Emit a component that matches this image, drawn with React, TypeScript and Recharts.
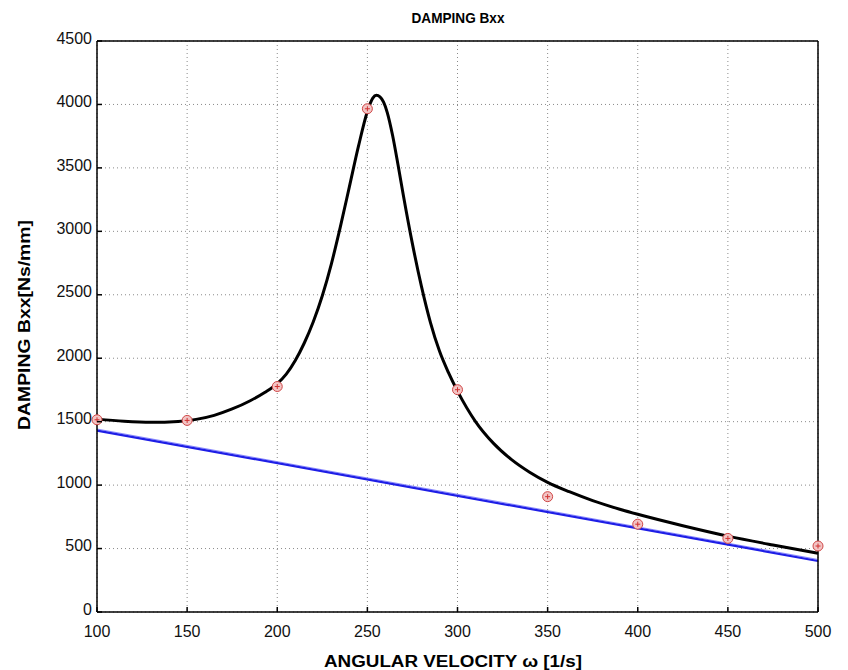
import { Line, XAxis, YAxis, CartesianGrid, Scatter, ComposedChart } from "recharts"

// fitted curve (black)
const omega = [100, 115, 130, 145, 155, 165, 175, 185, 193, 200, 205, 210, 215, 220, 225, 230, 235, 240, 245, 250, 253, 255, 257, 259, 261, 264, 267, 270, 275, 280, 285, 290, 295, 300, 310, 320, 330, 340, 350, 362, 375, 390, 400, 425, 450, 475, 500]
const fitted = [1520, 1503, 1495, 1502, 1518, 1550, 1600, 1665, 1730, 1800, 1875, 1982, 2120, 2287, 2492, 2742, 3035, 3350, 3667, 3945, 4050, 4072, 4060, 4018, 3938, 3755, 3524, 3281, 2901, 2566, 2281, 2056, 1886, 1741, 1501, 1329, 1201, 1102, 1022, 948, 878, 810, 770, 680, 598, 528, 463]

// linear trend (blue)
const lineOmega = [100, 500]
const linear = [1430, 402]
const linear2 = [1442, 414]

// measured points (red circles)
const measOmega = [100, 150, 200, 250, 300, 350, 400, 450, 500]
const measured = [1515, 1510, 1777, 3966, 1752, 909, 692, 580, 520]

const xTicks = [100, 150, 200, 250, 300, 350, 400, 450, 500]
const yTicks = [0, 500, 1000, 1500, 2000, 2500, 3000, 3500, 4000, 4500]

const curveData = omega.map((w, i) => ({ w, fit: fitted[i] }))
const lineData = lineOmega.map((w, i) => ({ w, lin: linear[i], lin2: linear2[i] }))
const measData = measOmega.map((w, i) => ({ w, meas: measured[i] }))

const font = "'Liberation Sans', Arial, Helvetica, sans-serif"
const TICK = 5

const Marker = (props: any) => {
  const { cx, cy } = props
  if (cx == null || cy == null) return null
  return (
    <g>
      <circle cx={cx} cy={cy} r={5} fill="#f2c4c4" stroke="#d04848" strokeWidth={1} />
      <line x1={cx - 2.5} x2={cx + 2.5} y1={cy} y2={cy} stroke="#d03030" strokeWidth={1} />
      <line x1={cx} x2={cx} y1={cy - 2.5} y2={cy + 2.5} stroke="#d03030" strokeWidth={1} />
    </g>
  )
}

// inward tick marks, matlab style
const BottomTick = (props: any) => {
  const { x, y, payload } = props
  const ay = y - 12
  return (
    <g>
      <line x1={x} x2={x} y1={ay} y2={ay - TICK} stroke="#000" strokeWidth={1.5} />
      <text x={x} y={y} dy="0.8em" textAnchor="middle" fontSize={16} fontFamily={font} fill="#111">{payload.value}</text>
    </g>
  )
}
const LeftTick = (props: any) => {
  const { x, y, payload } = props
  const ax = x + 5
  return (
    <g>
      <line x1={ax} x2={ax + TICK} y1={y} y2={y} stroke="#000" strokeWidth={1.5} />
      <text x={x} y={y - 3} dy="0.355em" textAnchor="end" fontSize={16} fontFamily={font} fill="#111">{payload.value}</text>
    </g>
  )
}
const TopTick = (props: any) => {
  const { x, y } = props
  return <line x1={x} x2={x} y1={y} y2={y + TICK} stroke="#000" strokeWidth={1.5} />
}
const RightTick = (props: any) => {
  const { x, y } = props
  return <line x1={x} x2={x - TICK} y1={y} y2={y} stroke="#000" strokeWidth={1.5} />
}

export default function App() {
  return (
    <div style={{ position: "absolute", left: 0, top: 0, width: 848, height: 670, background: "#fff", fontFamily: font }}>
      <ComposedChart
        width={848}
        height={670}
        margin={{ top: 40, right: 29, bottom: 28, left: 37 }}
      >
        {/* GRID */}
        <CartesianGrid xAxisId="b" yAxisId="l" stroke="#8a8a8a" strokeDasharray="1 3" />

        {/* AXES */}
        <XAxis
          xAxisId="b"
          dataKey="w"
          type="number"
          domain={[100, 500]}
          ticks={xTicks}
          allowDuplicatedCategory={false}
          height={30}
          axisLine={{ stroke: "#000", strokeWidth: 1.5 }}
          tickLine={false}
          tickSize={0}
          tickMargin={12}
          tick={BottomTick}
        />
        <XAxis
          xAxisId="t"
          orientation="top"
          type="number"
          domain={[100, 500]}
          ticks={xTicks}
          height={1}
          axisLine={{ stroke: "#000", strokeWidth: 1.5 }}
          tickLine={false}
          tickSize={0}
          tickMargin={0}
          tick={TopTick}
        />
        <YAxis
          yAxisId="l"
          type="number"
          domain={[0, 4500]}
          ticks={yTicks}
          width={60}
          axisLine={{ stroke: "#000", strokeWidth: 1.5 }}
          tickLine={false}
          tickSize={0}
          tickMargin={5}
          tick={LeftTick}
        />
        <YAxis
          yAxisId="r"
          orientation="right"
          type="number"
          domain={[0, 4500]}
          ticks={yTicks}
          width={1}
          axisLine={{ stroke: "#000", strokeWidth: 1.5 }}
          tickLine={false}
          tickSize={0}
          tickMargin={0}
          tick={RightTick}
        />

        {/* LINEAR */}
        <Line data={lineData} xAxisId="b" yAxisId="l" dataKey="lin2" stroke="#8a8aff" strokeWidth={1} dot={false} isAnimationActive={false} />
        <Line data={lineData} xAxisId="b" yAxisId="l" dataKey="lin" stroke="#1e1ee6" strokeWidth={2.2} dot={false} isAnimationActive={false} />

        {/* FITTED CURVE */}
        <Line data={curveData} xAxisId="b" yAxisId="l" type="monotone" dataKey="fit" stroke="#000" strokeWidth={3} dot={false} isAnimationActive={false} />

        {/* MEASURED */}
        <Scatter data={measData} xAxisId="b" yAxisId="l" dataKey="meas" shape={Marker} isAnimationActive={false} />

        <text x={458} y={23} textAnchor="middle" fontSize={14} fontWeight="bold" fontFamily={font} fill="#000" textLength={93} lengthAdjust="spacingAndGlyphs">DAMPING Bxx</text>
        <text x={453} y={667} textAnchor="middle" fontSize={16} fontWeight="bold" fontFamily={font} fill="#000" textLength={258} lengthAdjust="spacingAndGlyphs">ANGULAR VELOCITY ω [1/s]</text>
        <text x={30} y={325} textAnchor="middle" fontSize={16} fontWeight="bold" fontFamily={font} fill="#000" transform="rotate(-90 30 325)" textLength={210} lengthAdjust="spacingAndGlyphs">DAMPING  Bxx[Ns/mm]</text>
      </ComposedChart>
    </div>
  )
}
